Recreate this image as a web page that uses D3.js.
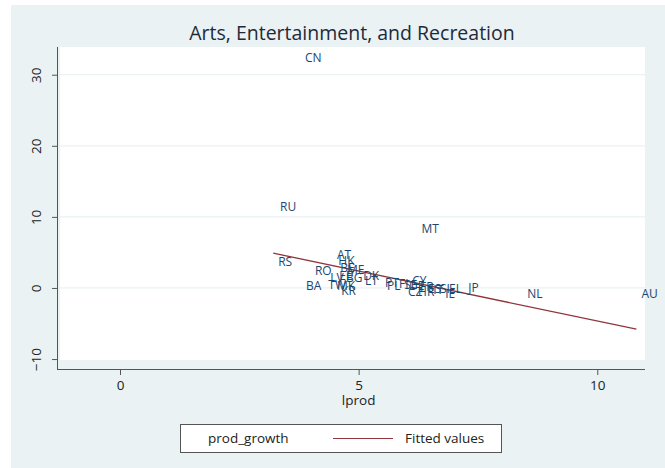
<!DOCTYPE html>
<html><head><meta charset="utf-8">
<script src="https://cdn.jsdelivr.net/npm/d3@7"></script>
<style>body{margin:0;background:#fff}svg{display:block}text{font-family:"Open Sans",sans-serif}</style>
</head><body>
<svg id="c" width="665" height="468"></svg>
<script>
const countries = ["CN","RU","MT","RS","AT","HK","RO","BE","ME","LV","EE","BG","DK","LT","BA","TW","MK","KR","PT","PL","FI","SE","CY","DE","CZ","HR","FR","ES","IT","SI","IE","EL","JP","NL","AU"];
const lprod = [3.77,3.25,6.21,3.21,4.44,4.47,3.98,4.51,4.65,4.30,4.49,4.63,4.99,5.03,3.79,4.26,4.44,4.53,5.45,5.49,5.74,5.85,6.02,5.95,5.93,6.14,6.18,6.35,6.46,6.60,6.71,6.79,7.19,8.43,10.82];
const prodGrowth = [32.4,11.4,8.3,3.7,4.6,3.8,2.4,2.8,2.5,1.5,1.7,1.5,1.7,1.0,0.3,0.4,0.3,-0.4,0.7,0.3,0.6,0.4,1.0,0.3,-0.6,-0.6,0.1,-0.1,-0.3,-0.1,-0.8,-0.1,0.0,-0.8,-0.8];
const fitX = [3.21, 10.82];
const fitY = [4.9, -5.8];
const xTicks = [0, 5, 10];
const yTicks = [-10, 0, 10, 20, 30];
const title = "Arts, Entertainment, and Recreation";
const xTitle = "lprod";
const legendLabels = ["prod_growth", "Fitted values"];

const svg = d3.select("#c");
const L = 57, R = 645, T = 47, B = 369;
const x = d3.scaleLinear().domain([-1.32, 11.0]).range([L, R]);
const y = d3.scaleLinear().domain([-11.4, 33.9]).range([B, T]);
const navy = "#1a476f", maroon = "#90353b";

svg.append("rect").attr("x",11).attr("y",5).attr("width",654).attr("height",463).attr("fill","#eaf2f3");
svg.append("rect").attr("x",L+3).attr("y",T).attr("width",R-L-3).attr("height",360-T).attr("fill","#fff");

// gridlines
svg.append("g").selectAll("line").data(yTicks.filter(d=>d>-10)).join("line")
  .attr("x1",L+3).attr("x2",R).attr("y1",d=>y(d)).attr("y2",d=>y(d))
  .attr("stroke","#eaf2f3").attr("stroke-width",1.2);

// axes
const ax = svg.append("g").attr("transform",`translate(0,${B})`)
  .call(d3.axisBottom(x).tickValues(xTicks).tickSize(6).tickPadding(5).tickFormat(d3.format("d")));
const ay = svg.append("g").attr("transform",`translate(${L},0)`)
  .call(d3.axisLeft(y).tickValues(yTicks).tickSize(5).tickPadding(6).tickFormat(d=>d<0?"\u2212"+Math.abs(d):d));
[ax, ay].forEach(g=>{
  g.select(".domain").attr("stroke","#555").attr("stroke-width",1);
  g.selectAll(".tick line").attr("stroke","#555");
  g.selectAll("text").attr("fill","#222").attr("font-size",13.5).attr("font-family","Open Sans, sans-serif");
});
ax.select(".domain").attr("d",`M${L},0.5H${R}`);
ay.select(".domain").attr("d",`M0.5,${T}V${B}`);
ay.selectAll(".tick text").attr("transform","rotate(-90)").attr("text-anchor","middle")
  .attr("x",0).attr("y",-21).attr("dy","0.35em");

// fitted line
svg.append("path").datum(fitX.map((v,i)=>[v,fitY[i]]))
  .attr("d", d3.line().x(d=>x(d[0])).y(d=>y(d[1])))
  .attr("fill","none").attr("stroke",maroon).attr("stroke-width",1.3);

// marker labels (position 3)
svg.append("g").selectAll("text").data(countries).join("text")
  .attr("x",(d,i)=>x(lprod[i])+5).attr("y",(d,i)=>y(prodGrowth[i]))
  .attr("dy","0.35em").attr("font-size",12).attr("fill",navy).text(d=>d);

// titles
svg.append("text").attr("x",352).attr("y",40).attr("text-anchor","middle")
  .attr("font-size",19.5).attr("fill","#1e2a3a").text(title);
svg.append("text").attr("x",x(5)).attr("y",405).attr("text-anchor","middle")
  .attr("font-size",13.5).attr("fill","#222").text(xTitle);

// legend
const lg = svg.append("g");
lg.append("rect").attr("x",180.5).attr("y",424.5).attr("width",321).attr("height",28)
  .attr("fill","#fff").attr("stroke","#555");
lg.append("text").attr("x",208).attr("y",443).attr("font-size",13.5).attr("fill","#222").text(legendLabels[0]);
lg.append("line").attr("x1",333).attr("x2",393).attr("y1",438.5).attr("y2",438.5).attr("stroke",maroon).attr("stroke-width",1.2);
lg.append("text").attr("x",405).attr("y",443).attr("font-size",13.5).attr("fill","#222").text(legendLabels[1]);
</script>
</body></html>
